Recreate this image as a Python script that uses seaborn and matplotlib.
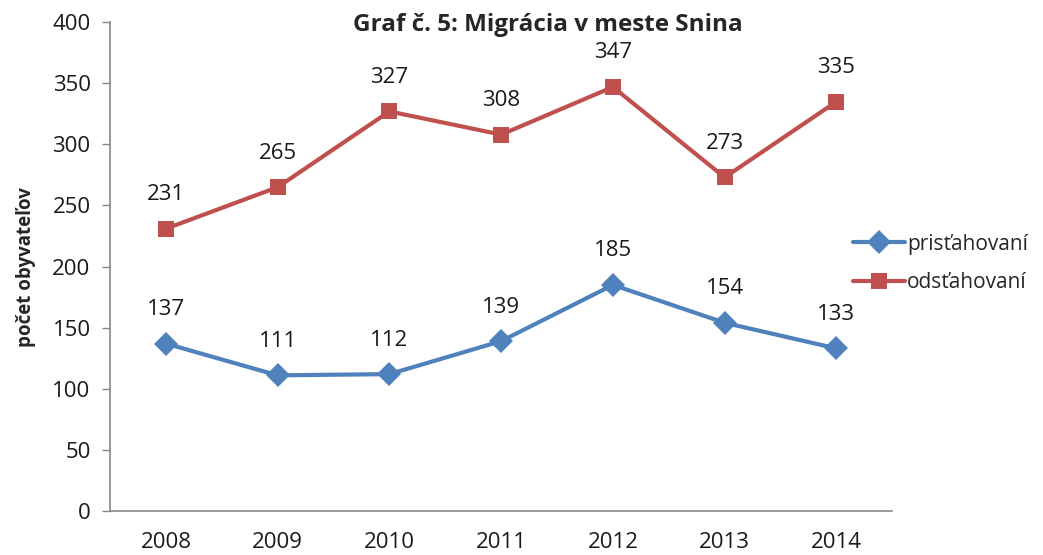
import numpy as np
import pandas as pd
import seaborn as sns
import matplotlib.pyplot as plt

years = [2008, 2009, 2010, 2011, 2012, 2013, 2014]
pristahovani = [137, 111, 112, 139, 185, 154, 133]
odstahovani = [231, 265, 327, 308, 347, 273, 335]
series_names = ["prisťahovaní", "odsťahovaní"]
colors = ["#4F81BD", "#C0504D"]

sns.set_theme(style="white")
plt.rcParams["font.family"] = ["Open Sans", "DejaVu Sans"]

df = pd.DataFrame({
    "rok": years * 2,
    "pocet": pristahovani + odstahovani,
    "typ": [series_names[0]] * len(years) + [series_names[1]] * len(years),
})

fig = plt.figure(figsize=(10.43, 5.55), dpi=100)
ax = fig.add_axes([0.1055, 0.0793, 0.75, 0.8807])

sns.lineplot(data=df, x="rok", y="pocet", hue="typ", style="typ",
             palette=colors, markers=["D", "s"], dashes=False,
             linewidth=3, markersize=12, markeredgewidth=0, ax=ax)

# data labels above points
for vals in (pristahovani, odstahovani):
    for x, v in zip(years, vals):
        ax.annotate(str(v), (x, v), xytext=(0, 17), textcoords="offset points",
                    ha="center", va="bottom", fontsize=16, color="#1a1a1a")

ax.set_xlim(2007.5, 2014.5)
ax.set_ylim(0, 400)
ax.set_yticks(np.arange(0, 401, 50))
ax.set_xticks(years)
ax.set_xticks(np.arange(2007.5, 2015, 1), minor=True)
ax.tick_params(axis="x", which="major", length=0, labelsize=16, pad=15, colors="#1a1a1a")
ax.tick_params(axis="x", which="minor", length=6, width=1, color="#868686", direction="out")
ax.tick_params(axis="y", length=6, width=1, color="#868686", labelsize=16, pad=8,
               labelcolor="#1a1a1a", left=True)

for s in ["top", "right"]:
    ax.spines[s].set_visible(False)
for s in ["left", "bottom"]:
    ax.spines[s].set_color("#868686")
    ax.spines[s].set_linewidth(1.2)

ax.set_xlabel("")
ax.set_ylabel("počet obyvateľov", fontsize=13.5, fontweight="bold", labelpad=12)
ax.set_title("Graf č. 5: Migrácia v meste Snina", fontsize=17.5, fontweight="bold",
             pad=-6, x=0.56)

handles, labels = ax.get_legend_handles_labels()
ax.legend(handles, labels, loc="center left", bbox_to_anchor=(0.8, 0.525),
          bbox_transform=fig.transFigure, frameon=False, fontsize=15,
          handlelength=2.5, handletextpad=0.1, labelspacing=0.85)

fig.savefig("out.png", dpi=100)
